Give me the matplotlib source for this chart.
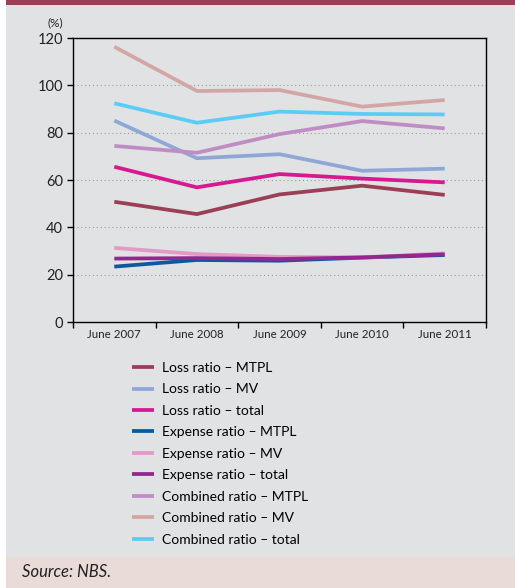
import matplotlib.pyplot as plt
from matplotlib.patches import Rectangle

# chart data
periods = ['June 2007', 'June 2008', 'June 2009', 'June 2010', 'June 2011']

loss_mtpl = [50.8, 45.6, 53.9, 57.6, 53.7]
loss_mv = [85.1, 69.2, 70.9, 63.9, 64.8]
loss_total = [65.6, 56.9, 62.5, 60.6, 59.0]
expense_mtpl = [23.4, 26.2, 25.9, 27.2, 28.3]
expense_mv = [31.3, 28.7, 27.5, 27.3, 29.0]
expense_total = [26.8, 27.0, 26.6, 27.3, 28.6]
combined_mtpl = [74.4, 71.5, 79.4, 84.9, 81.8]
combined_mv = [116.3, 97.6, 98.0, 91.0, 93.8]
combined_total = [92.4, 84.2, 88.9, 87.9, 87.7]

series = [
    ('Loss ratio \u2013 MTPL', loss_mtpl, '#9b3f57'),
    ('Loss ratio \u2013 MV', loss_mv, '#8fa7d5'),
    ('Loss ratio \u2013 total', loss_total, '#d6198f'),
    ('Expense ratio \u2013 MTPL', expense_mtpl, '#0b5aa0'),
    ('Expense ratio \u2013 MV', expense_mv, '#e39ac6'),
    ('Expense ratio \u2013 total', expense_total, '#93278f'),
    ('Combined ratio \u2013 MTPL', combined_mtpl, '#c08cc4'),
    ('Combined ratio \u2013 MV', combined_mv, '#d4a5a5'),
    ('Combined ratio \u2013 total', combined_total, '#5bcdf5'),
]

plt.rcParams['font.family'] = ['Lato', 'DejaVu Sans']

W, H = 515, 588
fig = plt.figure(figsize=(W / 100, H / 100), dpi=100, facecolor='white')

# background panels
fig.patches.append(Rectangle((6 / W, 31 / H), 1, 1 - 36 / H, transform=fig.transFigure,
                             facecolor='#e1e2e4', edgecolor='none', zorder=-3))
fig.patches.append(Rectangle((6 / W, 1 - 5 / H), 1, 5 / H, transform=fig.transFigure,
                             facecolor='#9b3f57', edgecolor='none', zorder=-3))
fig.patches.append(Rectangle((6 / W, 0), 1, 31 / H, transform=fig.transFigure,
                             facecolor='#e9dbd8', edgecolor='none', zorder=-3))

ax = fig.add_axes([73 / W, 1 - 322 / H, (486 - 73) / W, (322 - 38) / H])
ax.set_facecolor('none')

x = list(range(len(periods)))
for label, vals, color in series:
    ax.plot(x, vals, color=color, lw=2.7, label=label, solid_capstyle='butt')

ax.set_xlim(-0.5, len(periods) - 0.5)
ax.set_ylim(0, 120)
ax.set_yticks(range(0, 121, 20))
ax.set_xticks([i - 0.5 for i in range(len(periods) + 1)])
ax.set_xticklabels([])
ax.set_xticks(x, minor=True)
ax.set_xticklabels(periods, minor=True, fontsize=8.3, color='#222222')
ax.tick_params(axis='x', which='minor', length=0, pad=5)
ax.tick_params(axis='both', which='major', direction='out', length=4, width=1, color='black')
ax.tick_params(axis='y', labelsize=10.5, colors='#222222', pad=3)
ax.tick_params(axis='y', color='black')

for y in range(20, 101, 20):
    ax.axhline(y, color='#9a9a9a', lw=0.8, ls=(0, (1, 2.5)), zorder=0)

for s in ax.spines.values():
    s.set_color('black')
    s.set_linewidth(1)

fig.text(48 / W, 1 - 23 / H, '(%)', fontsize=8.5, color='#222222', ha='left', va='center')

fig.legend(loc='upper left', bbox_to_anchor=(132 / W, 1 - 362 / H), frameon=False,
           fontsize=10, handlelength=1.6, handletextpad=0.55, labelspacing=0.68,
           borderaxespad=0, borderpad=0)

fig.text(22 / W, 1 - 572 / H, 'Source: NBS.', fontsize=12, style='italic',
         color='#222222', ha='left', va='center')

fig.savefig('out.png', dpi=100, facecolor='white')
